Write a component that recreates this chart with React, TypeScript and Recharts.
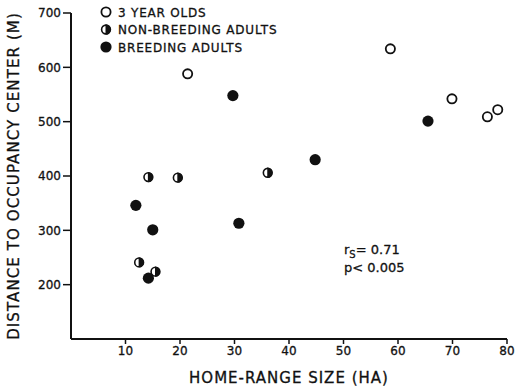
import { Customized, Scatter, ScatterChart, XAxis, YAxis } from "recharts";

// home-range size (ha) / distance to occupancy center (m)
const threeYearOldsX = [21.4, 58.6, 69.9, 76.4, 78.3];
const threeYearOldsY = [588, 634, 542, 509, 522];
const nonBreedingX = [14.2, 19.6, 36.1, 12.5, 15.5];
const nonBreedingY = [398, 397, 406, 241, 224];
const breedingX = [11.9, 15.0, 30.8, 14.2, 29.7, 44.8, 65.5];
const breedingY = [346, 301, 313, 212, 548, 430, 501];

const xTicks = [10, 20, 30, 40, 50, 60, 70, 80];
const yTicks = [200, 300, 400, 500, 600, 700];
const legendNames = ["3 YEAR OLDS", "NON-BREEDING ADULTS", "BREEDING ADULTS"];

const FONT = "'DejaVu Sans', sans-serif";
const INK = "#111";

const zip = (xs: number[], ys: number[]) => xs.map((x, i) => ({ x, y: ys[i] }));

function OpenDot({ cx, cy }: any) {
  return <circle cx={cx} cy={cy} r={4.6} fill="#fff" stroke={INK} strokeWidth={1.8} />;
}

function HalfDot({ cx, cy }: any) {
  const r = 5.2;
  return (
    <g>
      <circle cx={cx} cy={cy} r={r - 0.8} fill="#fff" stroke={INK} strokeWidth={1.6} />
      <path d={`M${cx - 0.5},${cy - r} A${r},${r} 0 0 1 ${cx - 0.5},${cy + r} Z`} fill={INK} />
    </g>
  );
}

function FullDot({ cx, cy }: any) {
  return <circle cx={cx} cy={cy} r={5.6} fill={INK} />;
}

const shapes = [OpenDot, HalfDot, FullDot];

function Annotations() {
  return (
    <g fontFamily={FONT} fill={INK}>
      {legendNames.map((name, i) => {
        const Shape = shapes[i];
        const y = 12 + i * 17.5;
        return (
          <g key={name}>
            <Shape cx={106} cy={y} />
            <text x={118} y={y + 4.5} fontSize={12} letterSpacing={0.8} stroke={INK} strokeWidth={0.3}>
              {name}
            </text>
          </g>
        );
      })}
      <text x={344} y={254} fontSize={13} stroke={INK} strokeWidth={0.3}>
        r
        <tspan fontSize={10} dy={4}>S</tspan>
        <tspan dy={-4}>= 0.71</tspan>
      </text>
      <text x={344} y={272} fontSize={13} stroke={INK} strokeWidth={0.3}>
        p&lt; 0.005
      </text>
    </g>
  );
}

const tickStyle = { fill: INK, fontSize: 12, fontFamily: FONT, stroke: INK, strokeWidth: 0.3 };
const axisLine = { stroke: INK, strokeWidth: 2 };

export default function App() {
  return (
    <div style={{ position: "absolute", left: 0, top: 0, width: 516, height: 392, background: "#fff" }}>
      <ScatterChart width={516} height={392} margin={{ top: 13, right: 9, bottom: 13, left: 10 }}>
        <XAxis
          type="number"
          dataKey="x"
          domain={[0, 80]}
          ticks={xTicks}
          allowDataOverflow
          axisLine={axisLine}
          tickLine={{ stroke: INK, strokeWidth: 1.5 }}
          tickSize={5}
          tick={tickStyle}
          height={40}
          label={{
            value: "HOME-RANGE SIZE (HA)",
            position: "insideBottom",
            offset: -4,
            style: { fill: INK, fontSize: 15, fontFamily: FONT, letterSpacing: 1, stroke: INK, strokeWidth: 0.3 },
          }}
        />
        <YAxis
          type="number"
          dataKey="y"
          domain={[100, 700]}
          ticks={yTicks}
          allowDataOverflow
          axisLine={axisLine}
          tickLine={{ stroke: INK, strokeWidth: 1.5 }}
          tickSize={8}
          tick={tickStyle}
          width={61}
          label={{
            value: "DISTANCE TO OCCUPANCY CENTER (M)",
            angle: -90,
            position: "insideLeft",
            offset: 4,
            style: {
              fill: INK,
              fontSize: 15,
              fontFamily: FONT,
              letterSpacing: 1.1,
              stroke: INK,
              strokeWidth: 0.3,
              textAnchor: "middle",
            },
          }}
        />
        <Scatter name="3 YEAR OLDS" data={zip(threeYearOldsX, threeYearOldsY)} shape={OpenDot} isAnimationActive={false} />
        <Scatter name="NON-BREEDING ADULTS" data={zip(nonBreedingX, nonBreedingY)} shape={HalfDot} isAnimationActive={false} />
        <Scatter name="BREEDING ADULTS" data={zip(breedingX, breedingY)} shape={FullDot} isAnimationActive={false} />
        <Customized component={<Annotations />} />
      </ScatterChart>
    </div>
  );
}
